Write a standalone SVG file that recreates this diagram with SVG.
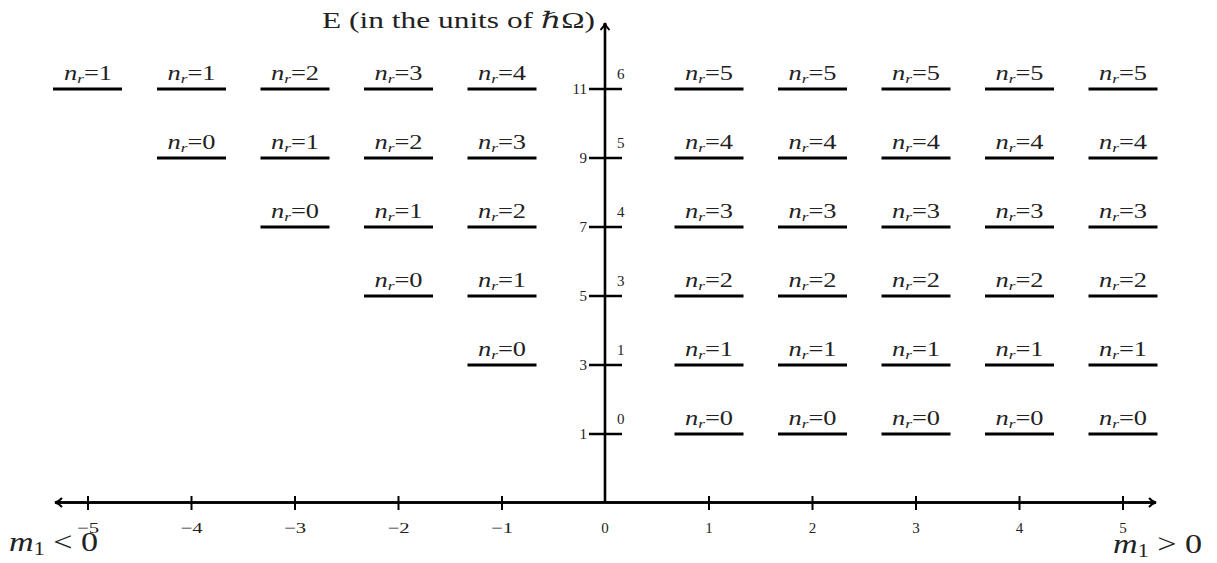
<svg xmlns="http://www.w3.org/2000/svg" width="1217" height="563" viewBox="0 0 1217 563">
<style>
text{font-family:"Liberation Serif","DejaVu Serif",serif;fill:#222}
.bar{stroke:#000;stroke-width:3;fill:none}
.ax{stroke:#000;stroke-width:2.6;fill:none}
.tk{stroke:#000;stroke-width:2;fill:none}
.lbl{font-size:20px;text-anchor:middle}
.num{font-size:15px}
.it{font-style:italic}
.sub{font-size:13px;font-style:italic}
</style>
<defs>
<marker id="arr" viewBox="0 0 12 12" refX="10" refY="6" markerWidth="12" markerHeight="12" markerUnits="userSpaceOnUse" orient="auto">
<path d="M3,1.5 Q6,5 10,6 Q6,7 3,10.5" fill="none" stroke="#000" stroke-width="2"/>
</marker>
</defs>
<g id="connectors">
<line class="ax" x1="56" y1="502.5" x2="1156" y2="502.5" marker-end="url(#arr)"/>
<line class="ax" x1="1156" y1="502.5" x2="55" y2="502.5" marker-end="url(#arr)"/>
<line class="ax" x1="605" y1="502.5" x2="605" y2="23" marker-end="url(#arr)"/>
<g class="tk">
<line x1="88" y1="496" x2="88" y2="510"/><line x1="191.5" y1="496" x2="191.5" y2="510"/><line x1="295" y1="496" x2="295" y2="510"/><line x1="398.5" y1="496" x2="398.5" y2="510"/><line x1="502" y1="496" x2="502" y2="510"/>
<line x1="709" y1="496" x2="709" y2="510"/><line x1="812.5" y1="496" x2="812.5" y2="510"/><line x1="916" y1="496" x2="916" y2="510"/><line x1="1019.5" y1="496" x2="1019.5" y2="510"/><line x1="1123" y1="496" x2="1123" y2="510"/>
</g>
<g class="ax" style="stroke-width:2.4">
<line x1="589" y1="89" x2="622" y2="89"/><line x1="589" y1="158" x2="622" y2="158"/><line x1="589" y1="227" x2="622" y2="227"/><line x1="589" y1="296" x2="622" y2="296"/><line x1="589" y1="365" x2="622" y2="365"/><line x1="589" y1="434" x2="622" y2="434"/>
</g>
</g>
<g id="axis-labels">
<text x="322" y="28" font-size="23" textLength="273" lengthAdjust="spacingAndGlyphs">E (in the units of <tspan class="it">ℏ</tspan>Ω)</text>
<g class="num" text-anchor="middle">
<text x="88" y="533" textLength="22" lengthAdjust="spacingAndGlyphs">−5</text><text x="191.5" y="533" textLength="22" lengthAdjust="spacingAndGlyphs">−4</text><text x="295" y="533" textLength="22" lengthAdjust="spacingAndGlyphs">−3</text><text x="398.5" y="533" textLength="22" lengthAdjust="spacingAndGlyphs">−2</text><text x="502" y="533" textLength="22" lengthAdjust="spacingAndGlyphs">−1</text><text x="605" y="533">0</text>
<text x="709" y="533">1</text><text x="812.5" y="533">2</text><text x="916" y="533">3</text><text x="1019.5" y="533">4</text><text x="1123" y="533">5</text>
</g>
<g class="num" text-anchor="end">
<text x="587" y="94">11</text><text x="587" y="163">9</text><text x="587" y="232">7</text><text x="587" y="301">5</text><text x="587" y="370">3</text><text x="587" y="439">1</text>
</g>
<g class="num" text-anchor="start">
<text x="617" y="79">6</text><text x="617" y="148">5</text><text x="617" y="217">4</text><text x="617" y="286">3</text><text x="617" y="355">1</text><text x="617" y="424">0</text>
</g>
<text x="9" y="551" font-size="28" textLength="89" lengthAdjust="spacingAndGlyphs"><tspan class="it">m</tspan><tspan font-size="18" dy="4">1</tspan><tspan dy="-4"> &lt; 0</tspan></text>
<text x="1113" y="553" font-size="28" textLength="89" lengthAdjust="spacingAndGlyphs"><tspan class="it">m</tspan><tspan font-size="18" dy="4">1</tspan><tspan dy="-4"> &gt; 0</tspan></text>
</g>
<!-- levels: m=-5 -->
<g id="m-5_E11"><line class="bar" x1="53" y1="89" x2="122" y2="89"/><text class="lbl" x="88" y="80" textLength="48" lengthAdjust="spacingAndGlyphs"><tspan class="it">n</tspan><tspan class="sub" dy="3">r</tspan><tspan dy="-3">=1</tspan></text></g>
<!-- m=-4 -->
<g id="m-4_E11"><line class="bar" x1="157" y1="89" x2="226" y2="89"/><text class="lbl" x="191.5" y="80" textLength="48" lengthAdjust="spacingAndGlyphs"><tspan class="it">n</tspan><tspan class="sub" dy="3">r</tspan><tspan dy="-3">=1</tspan></text></g>
<g id="m-4_E9"><line class="bar" x1="157" y1="158" x2="226" y2="158"/><text class="lbl" x="191.5" y="149" textLength="48" lengthAdjust="spacingAndGlyphs"><tspan class="it">n</tspan><tspan class="sub" dy="3">r</tspan><tspan dy="-3">=0</tspan></text></g>
<!-- m=-3 -->
<g id="m-3_E11"><line class="bar" x1="260.5" y1="89" x2="329.5" y2="89"/><text class="lbl" x="295" y="80" textLength="48" lengthAdjust="spacingAndGlyphs"><tspan class="it">n</tspan><tspan class="sub" dy="3">r</tspan><tspan dy="-3">=2</tspan></text></g>
<g id="m-3_E9"><line class="bar" x1="260.5" y1="158" x2="329.5" y2="158"/><text class="lbl" x="295" y="149" textLength="48" lengthAdjust="spacingAndGlyphs"><tspan class="it">n</tspan><tspan class="sub" dy="3">r</tspan><tspan dy="-3">=1</tspan></text></g>
<g id="m-3_E7"><line class="bar" x1="260.5" y1="227" x2="329.5" y2="227"/><text class="lbl" x="295" y="218" textLength="48" lengthAdjust="spacingAndGlyphs"><tspan class="it">n</tspan><tspan class="sub" dy="3">r</tspan><tspan dy="-3">=0</tspan></text></g>
<!-- m=-2 -->
<g id="m-2_E11"><line class="bar" x1="364" y1="89" x2="433" y2="89"/><text class="lbl" x="398.5" y="80" textLength="48" lengthAdjust="spacingAndGlyphs"><tspan class="it">n</tspan><tspan class="sub" dy="3">r</tspan><tspan dy="-3">=3</tspan></text></g>
<g id="m-2_E9"><line class="bar" x1="364" y1="158" x2="433" y2="158"/><text class="lbl" x="398.5" y="149" textLength="48" lengthAdjust="spacingAndGlyphs"><tspan class="it">n</tspan><tspan class="sub" dy="3">r</tspan><tspan dy="-3">=2</tspan></text></g>
<g id="m-2_E7"><line class="bar" x1="364" y1="227" x2="433" y2="227"/><text class="lbl" x="398.5" y="218" textLength="48" lengthAdjust="spacingAndGlyphs"><tspan class="it">n</tspan><tspan class="sub" dy="3">r</tspan><tspan dy="-3">=1</tspan></text></g>
<g id="m-2_E5"><line class="bar" x1="364" y1="296" x2="433" y2="296"/><text class="lbl" x="398.5" y="287" textLength="48" lengthAdjust="spacingAndGlyphs"><tspan class="it">n</tspan><tspan class="sub" dy="3">r</tspan><tspan dy="-3">=0</tspan></text></g>
<!-- m=-1 -->
<g id="m-1_E11"><line class="bar" x1="467.5" y1="89" x2="536.5" y2="89"/><text class="lbl" x="502" y="80" textLength="48" lengthAdjust="spacingAndGlyphs"><tspan class="it">n</tspan><tspan class="sub" dy="3">r</tspan><tspan dy="-3">=4</tspan></text></g>
<g id="m-1_E9"><line class="bar" x1="467.5" y1="158" x2="536.5" y2="158"/><text class="lbl" x="502" y="149" textLength="48" lengthAdjust="spacingAndGlyphs"><tspan class="it">n</tspan><tspan class="sub" dy="3">r</tspan><tspan dy="-3">=3</tspan></text></g>
<g id="m-1_E7"><line class="bar" x1="467.5" y1="227" x2="536.5" y2="227"/><text class="lbl" x="502" y="218" textLength="48" lengthAdjust="spacingAndGlyphs"><tspan class="it">n</tspan><tspan class="sub" dy="3">r</tspan><tspan dy="-3">=2</tspan></text></g>
<g id="m-1_E5"><line class="bar" x1="467.5" y1="296" x2="536.5" y2="296"/><text class="lbl" x="502" y="287" textLength="48" lengthAdjust="spacingAndGlyphs"><tspan class="it">n</tspan><tspan class="sub" dy="3">r</tspan><tspan dy="-3">=1</tspan></text></g>
<g id="m-1_E3"><line class="bar" x1="467.5" y1="365" x2="536.5" y2="365"/><text class="lbl" x="502" y="356" textLength="48" lengthAdjust="spacingAndGlyphs"><tspan class="it">n</tspan><tspan class="sub" dy="3">r</tspan><tspan dy="-3">=0</tspan></text></g>
<!-- m=1..5 -->
<g id="m1_E11"><line class="bar" x1="674.5" y1="89" x2="743.5" y2="89"/><text class="lbl" x="709" y="80" textLength="48" lengthAdjust="spacingAndGlyphs"><tspan class="it">n</tspan><tspan class="sub" dy="3">r</tspan><tspan dy="-3">=5</tspan></text></g>
<g id="m1_E9"><line class="bar" x1="674.5" y1="158" x2="743.5" y2="158"/><text class="lbl" x="709" y="149" textLength="48" lengthAdjust="spacingAndGlyphs"><tspan class="it">n</tspan><tspan class="sub" dy="3">r</tspan><tspan dy="-3">=4</tspan></text></g>
<g id="m1_E7"><line class="bar" x1="674.5" y1="227" x2="743.5" y2="227"/><text class="lbl" x="709" y="218" textLength="48" lengthAdjust="spacingAndGlyphs"><tspan class="it">n</tspan><tspan class="sub" dy="3">r</tspan><tspan dy="-3">=3</tspan></text></g>
<g id="m1_E5"><line class="bar" x1="674.5" y1="296" x2="743.5" y2="296"/><text class="lbl" x="709" y="287" textLength="48" lengthAdjust="spacingAndGlyphs"><tspan class="it">n</tspan><tspan class="sub" dy="3">r</tspan><tspan dy="-3">=2</tspan></text></g>
<g id="m1_E3"><line class="bar" x1="674.5" y1="365" x2="743.5" y2="365"/><text class="lbl" x="709" y="356" textLength="48" lengthAdjust="spacingAndGlyphs"><tspan class="it">n</tspan><tspan class="sub" dy="3">r</tspan><tspan dy="-3">=1</tspan></text></g>
<g id="m1_E1"><line class="bar" x1="674.5" y1="434" x2="743.5" y2="434"/><text class="lbl" x="709" y="425" textLength="48" lengthAdjust="spacingAndGlyphs"><tspan class="it">n</tspan><tspan class="sub" dy="3">r</tspan><tspan dy="-3">=0</tspan></text></g>
<g id="m2_E11"><line class="bar" x1="778" y1="89" x2="847" y2="89"/><text class="lbl" x="812.5" y="80" textLength="48" lengthAdjust="spacingAndGlyphs"><tspan class="it">n</tspan><tspan class="sub" dy="3">r</tspan><tspan dy="-3">=5</tspan></text></g>
<g id="m2_E9"><line class="bar" x1="778" y1="158" x2="847" y2="158"/><text class="lbl" x="812.5" y="149" textLength="48" lengthAdjust="spacingAndGlyphs"><tspan class="it">n</tspan><tspan class="sub" dy="3">r</tspan><tspan dy="-3">=4</tspan></text></g>
<g id="m2_E7"><line class="bar" x1="778" y1="227" x2="847" y2="227"/><text class="lbl" x="812.5" y="218" textLength="48" lengthAdjust="spacingAndGlyphs"><tspan class="it">n</tspan><tspan class="sub" dy="3">r</tspan><tspan dy="-3">=3</tspan></text></g>
<g id="m2_E5"><line class="bar" x1="778" y1="296" x2="847" y2="296"/><text class="lbl" x="812.5" y="287" textLength="48" lengthAdjust="spacingAndGlyphs"><tspan class="it">n</tspan><tspan class="sub" dy="3">r</tspan><tspan dy="-3">=2</tspan></text></g>
<g id="m2_E3"><line class="bar" x1="778" y1="365" x2="847" y2="365"/><text class="lbl" x="812.5" y="356" textLength="48" lengthAdjust="spacingAndGlyphs"><tspan class="it">n</tspan><tspan class="sub" dy="3">r</tspan><tspan dy="-3">=1</tspan></text></g>
<g id="m2_E1"><line class="bar" x1="778" y1="434" x2="847" y2="434"/><text class="lbl" x="812.5" y="425" textLength="48" lengthAdjust="spacingAndGlyphs"><tspan class="it">n</tspan><tspan class="sub" dy="3">r</tspan><tspan dy="-3">=0</tspan></text></g>
<g id="m3_E11"><line class="bar" x1="881.5" y1="89" x2="950.5" y2="89"/><text class="lbl" x="916" y="80" textLength="48" lengthAdjust="spacingAndGlyphs"><tspan class="it">n</tspan><tspan class="sub" dy="3">r</tspan><tspan dy="-3">=5</tspan></text></g>
<g id="m3_E9"><line class="bar" x1="881.5" y1="158" x2="950.5" y2="158"/><text class="lbl" x="916" y="149" textLength="48" lengthAdjust="spacingAndGlyphs"><tspan class="it">n</tspan><tspan class="sub" dy="3">r</tspan><tspan dy="-3">=4</tspan></text></g>
<g id="m3_E7"><line class="bar" x1="881.5" y1="227" x2="950.5" y2="227"/><text class="lbl" x="916" y="218" textLength="48" lengthAdjust="spacingAndGlyphs"><tspan class="it">n</tspan><tspan class="sub" dy="3">r</tspan><tspan dy="-3">=3</tspan></text></g>
<g id="m3_E5"><line class="bar" x1="881.5" y1="296" x2="950.5" y2="296"/><text class="lbl" x="916" y="287" textLength="48" lengthAdjust="spacingAndGlyphs"><tspan class="it">n</tspan><tspan class="sub" dy="3">r</tspan><tspan dy="-3">=2</tspan></text></g>
<g id="m3_E3"><line class="bar" x1="881.5" y1="365" x2="950.5" y2="365"/><text class="lbl" x="916" y="356" textLength="48" lengthAdjust="spacingAndGlyphs"><tspan class="it">n</tspan><tspan class="sub" dy="3">r</tspan><tspan dy="-3">=1</tspan></text></g>
<g id="m3_E1"><line class="bar" x1="881.5" y1="434" x2="950.5" y2="434"/><text class="lbl" x="916" y="425" textLength="48" lengthAdjust="spacingAndGlyphs"><tspan class="it">n</tspan><tspan class="sub" dy="3">r</tspan><tspan dy="-3">=0</tspan></text></g>
<g id="m4_E11"><line class="bar" x1="985" y1="89" x2="1054" y2="89"/><text class="lbl" x="1019.5" y="80" textLength="48" lengthAdjust="spacingAndGlyphs"><tspan class="it">n</tspan><tspan class="sub" dy="3">r</tspan><tspan dy="-3">=5</tspan></text></g>
<g id="m4_E9"><line class="bar" x1="985" y1="158" x2="1054" y2="158"/><text class="lbl" x="1019.5" y="149" textLength="48" lengthAdjust="spacingAndGlyphs"><tspan class="it">n</tspan><tspan class="sub" dy="3">r</tspan><tspan dy="-3">=4</tspan></text></g>
<g id="m4_E7"><line class="bar" x1="985" y1="227" x2="1054" y2="227"/><text class="lbl" x="1019.5" y="218" textLength="48" lengthAdjust="spacingAndGlyphs"><tspan class="it">n</tspan><tspan class="sub" dy="3">r</tspan><tspan dy="-3">=3</tspan></text></g>
<g id="m4_E5"><line class="bar" x1="985" y1="296" x2="1054" y2="296"/><text class="lbl" x="1019.5" y="287" textLength="48" lengthAdjust="spacingAndGlyphs"><tspan class="it">n</tspan><tspan class="sub" dy="3">r</tspan><tspan dy="-3">=2</tspan></text></g>
<g id="m4_E3"><line class="bar" x1="985" y1="365" x2="1054" y2="365"/><text class="lbl" x="1019.5" y="356" textLength="48" lengthAdjust="spacingAndGlyphs"><tspan class="it">n</tspan><tspan class="sub" dy="3">r</tspan><tspan dy="-3">=1</tspan></text></g>
<g id="m4_E1"><line class="bar" x1="985" y1="434" x2="1054" y2="434"/><text class="lbl" x="1019.5" y="425" textLength="48" lengthAdjust="spacingAndGlyphs"><tspan class="it">n</tspan><tspan class="sub" dy="3">r</tspan><tspan dy="-3">=0</tspan></text></g>
<g id="m5_E11"><line class="bar" x1="1088.5" y1="89" x2="1157.5" y2="89"/><text class="lbl" x="1123" y="80" textLength="48" lengthAdjust="spacingAndGlyphs"><tspan class="it">n</tspan><tspan class="sub" dy="3">r</tspan><tspan dy="-3">=5</tspan></text></g>
<g id="m5_E9"><line class="bar" x1="1088.5" y1="158" x2="1157.5" y2="158"/><text class="lbl" x="1123" y="149" textLength="48" lengthAdjust="spacingAndGlyphs"><tspan class="it">n</tspan><tspan class="sub" dy="3">r</tspan><tspan dy="-3">=4</tspan></text></g>
<g id="m5_E7"><line class="bar" x1="1088.5" y1="227" x2="1157.5" y2="227"/><text class="lbl" x="1123" y="218" textLength="48" lengthAdjust="spacingAndGlyphs"><tspan class="it">n</tspan><tspan class="sub" dy="3">r</tspan><tspan dy="-3">=3</tspan></text></g>
<g id="m5_E5"><line class="bar" x1="1088.5" y1="296" x2="1157.5" y2="296"/><text class="lbl" x="1123" y="287" textLength="48" lengthAdjust="spacingAndGlyphs"><tspan class="it">n</tspan><tspan class="sub" dy="3">r</tspan><tspan dy="-3">=2</tspan></text></g>
<g id="m5_E3"><line class="bar" x1="1088.5" y1="365" x2="1157.5" y2="365"/><text class="lbl" x="1123" y="356" textLength="48" lengthAdjust="spacingAndGlyphs"><tspan class="it">n</tspan><tspan class="sub" dy="3">r</tspan><tspan dy="-3">=1</tspan></text></g>
<g id="m5_E1"><line class="bar" x1="1088.5" y1="434" x2="1157.5" y2="434"/><text class="lbl" x="1123" y="425" textLength="48" lengthAdjust="spacingAndGlyphs"><tspan class="it">n</tspan><tspan class="sub" dy="3">r</tspan><tspan dy="-3">=0</tspan></text></g>
</svg>
